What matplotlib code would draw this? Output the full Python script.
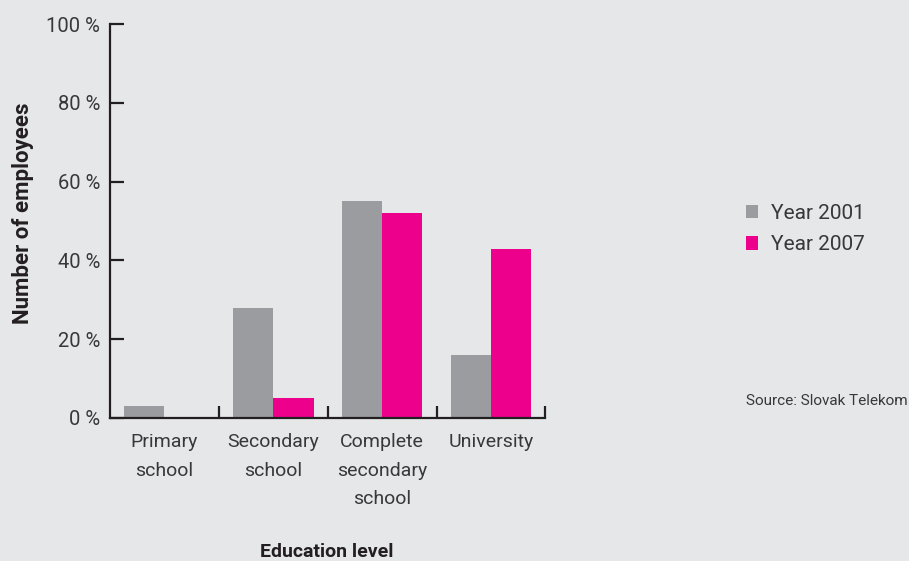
import matplotlib.pyplot as plt
import numpy as np

categorias = ["Primary\nschool", "Secondary\nschool", "Complete\nsecondary\nschool", "University"]
ano_2001 = [3, 28, 55, 16]
ano_2007 = [0, 5, 52, 43]
rotulos_y = ["0 %", "20 %", "40 %", "60 %", "80 %", "100 %"]

fundo = "#e6e7e9"
cinza = "#9b9c9f"
magenta = "#ec008c"
escuro = "#231f20"
texto = "#38383a"

plt.rcParams["font.family"] = ["Roboto", "DejaVu Sans"]

fig = plt.figure(figsize=(9.09, 5.61), dpi=100, facecolor=fundo)
ax = fig.add_axes([0.121, 0.255, 0.479, 0.702])
ax.set_facecolor(fundo)

x = np.arange(len(categorias))
largura = 0.37
ax.bar(x - largura / 2, ano_2001, largura, color=cinza, label="Year 2001")
ax.bar(x + largura / 2, ano_2007, largura, color=magenta, label="Year 2007")

ax.set_xlim(-0.5, 3.5)
ax.set_ylim(0, 100)

for lado in ["top", "right"]:
    ax.spines[lado].set_visible(False)
for lado in ["left", "bottom"]:
    ax.spines[lado].set_color(escuro)
    ax.spines[lado].set_linewidth(1.6)

ax.set_yticks([0, 20, 40, 60, 80, 100])
ax.set_yticklabels(rotulos_y)
ax.tick_params(axis="y", direction="in", length=10, width=1.6, color=escuro,
               labelsize=14.5, labelcolor=texto, pad=7)

ax.set_xticks(x)
ax.set_xticklabels(categorias, linespacing=1.75)
ax.tick_params(axis="x", which="major", length=0, labelsize=14, labelcolor=texto, pad=11)
ax.set_xticks([0.5, 1.5, 2.5, 3.5], minor=True)
ax.tick_params(axis="x", which="minor", direction="in", length=9, width=1.6, color=escuro)

ax.set_ylabel("Number of employees", fontsize=16, fontweight="bold", color=escuro)
ax.yaxis.set_label_coords(-0.175, 0.52)
fig.text(0.36, 0.008, "Education level", fontsize=14, fontweight="bold", color=escuro, ha="center")

leg = fig.legend(loc="upper left", bbox_to_anchor=(0.8, 0.67), frameon=False,
                 fontsize=15, handlelength=0.6, handleheight=0.6, handletextpad=0.6,
                 labelspacing=0.6, labelcolor=texto)

fig.text(0.998, 0.278, "Source: Slovak Telekom", fontsize=11, color=texto, ha="right")

fig.savefig("out.png", dpi=100, facecolor=fundo)
